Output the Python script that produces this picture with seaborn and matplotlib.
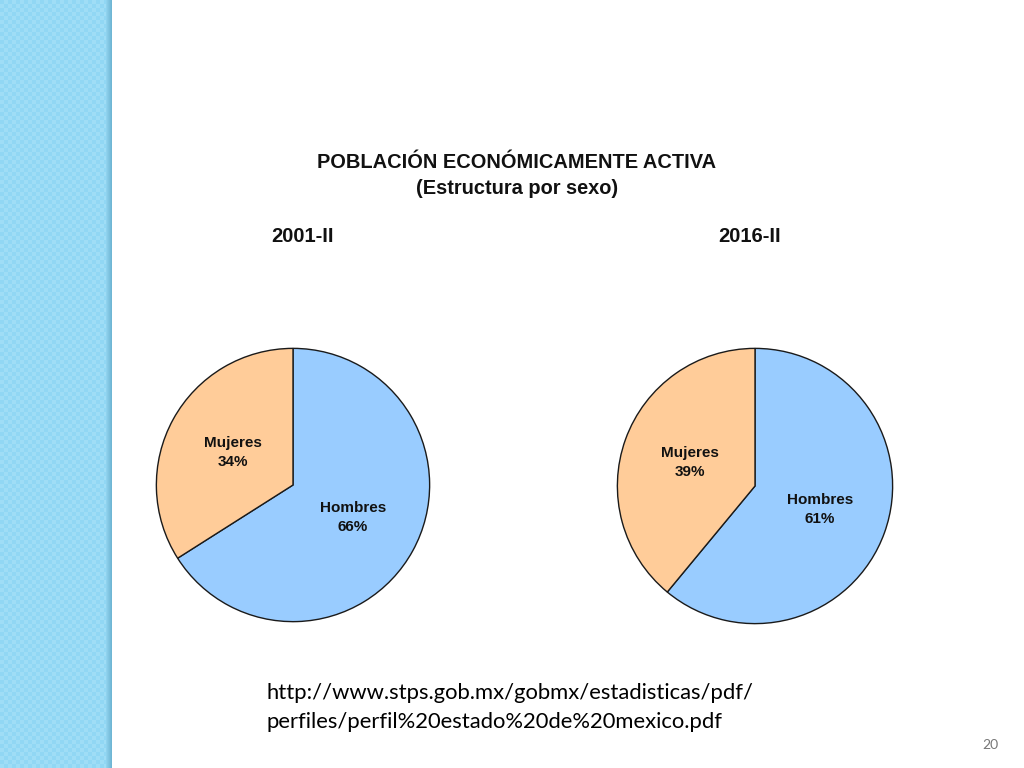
import numpy as np
import matplotlib.pyplot as plt
import seaborn as sns

sns.set_theme(style="white")
plt.rcParams['font.family'] = ['Liberation Sans', 'DejaVu Sans']

# data
groups = ["Hombres", "Mujeres"]
shares_2001 = [66, 34]
shares_2016 = [61, 39]
periods = ["2001-II", "2016-II"]
colors = ["#99ccff", "#ffcc99"]

fig = plt.figure(figsize=(10.24, 7.68), dpi=100)
fig.patch.set_facecolor("white")

# left decorative stripe
sa = fig.add_axes([0, 0, 112 / 1024, 1])
chk = (np.indices((192, 28)).sum(axis=0) % 2).astype(float)
sa.imshow(chk, cmap=sns.blend_palette(["#91d7f4", "#9fddf6"], as_cmap=True),
          aspect="auto", interpolation="nearest")
sa.axis("off")
ea = fig.add_axes([106 / 1024, 0, 6 / 1024, 1])
ea.imshow(np.linspace(0, 1, 6)[None, :], aspect="auto",
          cmap=sns.blend_palette(["#8fd2ee", "#6fb6d4"], as_cmap=True))
ea.axis("off")

def draw_pie(cx, cy, r, vals):
    ax = fig.add_axes([(cx - r) / 1024, (768 - cy - r) / 768, 2 * r / 1024, 2 * r / 768])
    labels = [f"{g}\n{v}%" for g, v in zip(groups, vals)]
    ax.pie(vals, labels=labels, colors=colors, startangle=90, counterclock=False,
           labeldistance=0.5, radius=1,
           wedgeprops=dict(edgecolor="#1a1a1a", linewidth=1.0),
           textprops=dict(fontsize=11, fontweight="bold", ha="center", va="center",
                          color="#111111", linespacing=1.45))
    ax.set_xlim(-1.01, 1.01)
    ax.set_ylim(-1.01, 1.01)
    ax.axis("off")

draw_pie(293, 485, 138, shares_2001)
draw_pie(755, 486, 139, shares_2016)

fig.text(517 / 1024, 1 - 162 / 768, "POBLACIÓN ECONÓMICAMENTE ACTIVA", ha="center", va="center",
         fontsize=14.4, fontweight="bold", color="#111111")
fig.text(517 / 1024, 1 - 188 / 768, "(Estructura por sexo)", ha="center", va="center",
         fontsize=14.4, fontweight="bold", color="#111111")
fig.text(302 / 1024, 1 - 237 / 768, periods[0], ha="center", va="center",
         fontsize=14.5, fontweight="bold", color="#111111")
fig.text(750 / 1024, 1 - 237 / 768, periods[1], ha="center", va="center",
         fontsize=14.5, fontweight="bold", color="#111111")

fig.text(267 / 1024, 1 - 693 / 768, "http://www.stps.gob.mx/gobmx/estadisticas/pdf/",
         ha="left", va="center", fontsize=15.8, color="black", family=["Lato", "DejaVu Sans"])
fig.text(267 / 1024, 1 - 722 / 768, "perfiles/perfil%20estado%20de%20mexico.pdf",
         ha="left", va="center", fontsize=15.8, color="black", family=["Lato", "DejaVu Sans"])
fig.text(990 / 1024, 1 - 745 / 768, "20", ha="center", va="center", fontsize=10,
         color="#777777", family=["Lato", "DejaVu Sans"])

fig.savefig("out.png", dpi=100, facecolor="white")
